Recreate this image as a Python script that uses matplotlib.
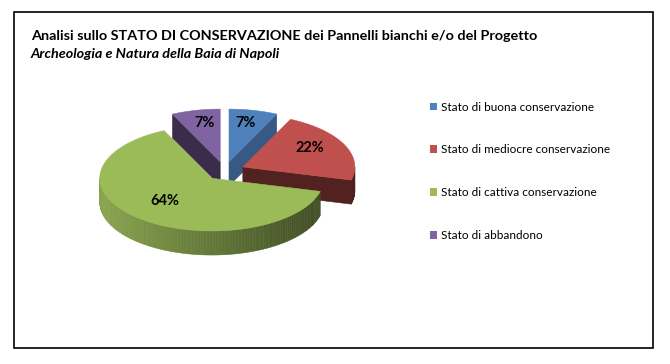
import numpy as np
import matplotlib
matplotlib.use("Agg")
import matplotlib.pyplot as plt
from matplotlib.patches import Polygon, Patch, Rectangle
from matplotlib.colors import to_rgb

# data
labels = ["Stato di buona conservazione", "Stato di mediocre conservazione",
          "Stato di cattiva conservazione", "Stato di abbandono"]
values = [7, 22, 64, 7]
pct_labels = ["7%", "22%", "64%", "7%"]
colors = ["#4F81BD", "#C0504D", "#9BBB59", "#8064A2"]

title_1 = "Analisi sullo STATO DI CONSERVAZIONE dei Pannelli bianchi e/o del Progetto"
title_2 = "Archeologia e Natura della Baia di Napoli"

W, H = 670, 364
K = 0.47        # vertical squash of the pie
DEPTH = 0.215   # thickness of the pie
EXPLODE = 0.18

fig = plt.figure(figsize=(W / 100, H / 100), dpi=100)

# outer frame
fig.patches.append(Rectangle((14 / W, 1 - 348 / H), (653 - 14) / W, (348 - 12) / H,
                             transform=fig.transFigure, fill=False,
                             edgecolor="black", lw=1.2))

fig.text(31 / W, 1 - 36 / H, title_1, fontsize=10.4, fontweight="bold",
         family="Lato", va="center", ha="left")
fig.text(31 / W, 1 - 54 / H, title_2, fontsize=10.4, fontweight="bold",
         style="italic", family="Lato", va="center", ha="left")

# pie axes, 1 unit = 112 px in both directions
cx_px, cy_px, unit = 224.6, 171, 112.0
x0, x1, y0, y1 = 60, 400, 80, 290
ax = fig.add_axes([x0 / W, 1 - y1 / H, (x1 - x0) / W, (y1 - y0) / H])
ax.set_xlim((x0 - cx_px) / unit, (x1 - cx_px) / unit)
ax.set_ylim(-(y1 - cy_px) / unit, (cy_px - y0) / unit)
ax.axis("off")


def shade(c, f):
    r, g, b = to_rgb(c)
    return (r * f, g * f, b * f)


def pt(cx, cy, th, r=1.0, z=0.0):
    return (cx + r * np.sin(th), cy + K * r * np.cos(th) + z)


def face(pts, col):
    ax.add_patch(Polygon(pts, closed=True, facecolor=col, edgecolor=col, lw=0.4))


fr = np.array(values, dtype=float) / sum(values)
bounds = np.concatenate([[0], np.cumsum(fr)]) * 2 * np.pi
mids = (bounds[:-1] + bounds[1:]) / 2
order = sorted(range(len(values)), key=lambda i: -np.cos(mids[i]))

for i in order:
    a, b, m = bounds[i], bounds[i + 1], mids[i]
    col = colors[i]
    cx, cy = EXPLODE * np.sin(m), K * EXPLODE * np.cos(m)

    # outer curved wall, front half only, shaded from left to right
    lo, hi = max(a, np.pi / 2), min(b, 3 * np.pi / 2)
    if hi > lo:
        n = max(2, int(np.degrees(hi - lo) / 1.5))
        ts = np.linspace(lo, hi, n + 1)
        for t0, t1 in zip(ts[:-1], ts[1:]):
            f = 0.64 - 0.24 * np.sin((t0 + t1) / 2)
            face([pt(cx, cy, t0), pt(cx, cy, t1),
                  pt(cx, cy, t1, z=-DEPTH), pt(cx, cy, t0, z=-DEPTH)], shade(col, f))

    # radial cut faces
    if np.sin(a) < -1e-6:
        f = 0.45 + 0.3 * max(-np.cos(a), 0)
        face([pt(cx, cy, a, 0), pt(cx, cy, a), pt(cx, cy, a, z=-DEPTH),
              pt(cx, cy, a, 0, -DEPTH)], shade(col, f))
    if np.sin(b) > 1e-6:
        f = 0.42 + 0.3 * max(np.cos(b), 0)
        face([pt(cx, cy, b, 0), pt(cx, cy, b), pt(cx, cy, b, z=-DEPTH),
              pt(cx, cy, b, 0, -DEPTH)], shade(col, f))

    # top face
    ts = np.linspace(a, b, 120)
    face([(cx, cy)] + [pt(cx, cy, t) for t in ts], col)

    lx, ly = pt(cx, cy, m, 0.66)
    ax.text(lx, ly + 0.04, pct_labels[i], ha="center", va="center", fontsize=10.5,
            fontweight="bold", family="Lato", color="black")

handles = [Patch(facecolor=c, edgecolor="none") for c in colors]
fig.legend(handles, labels, loc="upper left", bbox_to_anchor=(419 / W, 1 - 91 / H),
           frameon=False, handlelength=0.65, handleheight=0.65,
           handletextpad=0.35, labelspacing=2.69, prop={"family": "Lato", "size": 8.5})

fig.savefig("out.png", dpi=100)
